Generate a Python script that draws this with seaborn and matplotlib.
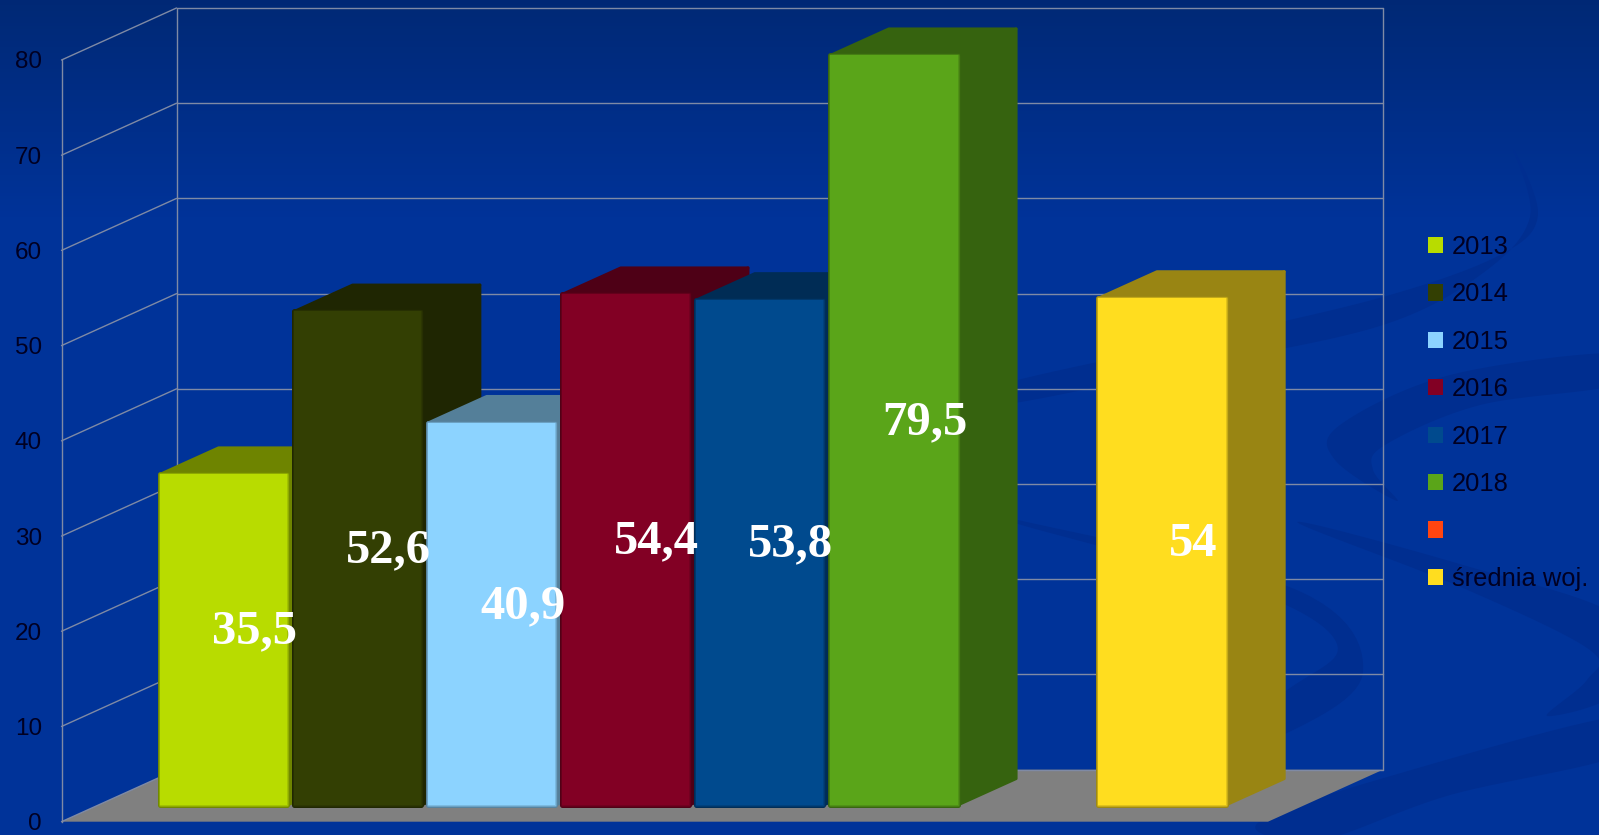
import numpy as np
import pandas as pd
import matplotlib
matplotlib.use('Agg')
import matplotlib.pyplot as plt
import matplotlib.patheffects as pe
from matplotlib.patches import Patch, Polygon
from matplotlib.colors import to_rgb
import seaborn as sns

# Datos del grafico
categories = ['2013', '2014', '2015', '2016', '2017', '2018', ' ', 'średnia woj.']
values = [35.5, 52.6, 40.9, 54.4, 53.8, 79.5, np.nan, 54.0]
value_labels = ['35,5', '52,6', '40,9', '54,4', '53,8', '79,5', '', '54']
colors = ['#B8DC00', '#333F03', '#8CD3FF', '#820024', '#004A8E', '#5AA519', '#FF4510', '#FFDD1F']
yticks = [0, 10, 20, 30, 40, 50, 60, 70, 80]

W, H = 1599, 835
GRID = '#7F8AA5'

# Profundidad del falso 3D, en unidades de datos
DX = 115 / 134.05
DY = 52 / 9.52
D0 = 0.267
BAR_D = 0.51
BAR_Y0 = 1.733
BAR_TRIM = 0.746


def suave(puntos, n=12):
    # Curva cerrada por los puntos de una forma del fondo
    p = np.array(puntos, dtype=float)
    salida = []
    for i in range(len(p)):
        a, b, c, d = p[i - 1], p[i], p[(i + 1) % len(p)], p[(i + 2) % len(p)]
        for t in np.linspace(0, 1, n, endpoint=False):
            salida.append(0.5 * (2 * b + (c - a) * t + (2 * a - 5 * b + 4 * c - d) * t ** 2
                                 + (3 * b - a - 3 * c + d) * t ** 3))
    return np.array(salida)


sns.set_theme(style='white')
plt.rcParams['font.family'] = ['Liberation Sans', 'DejaVu Sans']

fig = plt.figure(figsize=(W / 100, H / 100), dpi=100)

# Fondo: degradado y curvas oscuras
bg = fig.add_axes([0, 0, 1, 1], zorder=-1)
grad = np.array([[0.0, 0.16, 0.46], [0.0, 0.2, 0.6]])
t = np.clip(np.linspace(0, 1, H) / 0.26, 0, 1)[:, None]
bg.imshow((grad[0] * (1 - t) + grad[1] * t)[:, None, :], extent=[0, W, H, 0], aspect='auto')
swoosh = '#002E90'
shapes = [
    [(1000, 385), (1200, 340), (1383, 297), (1500, 255), (1538, 215), (1513, 149), (1530, 217),
     (1483, 273), (1383, 325), (1200, 365), (1000, 405)],
    [(1620, 353), (1450, 375), (1340, 425), (1335, 460), (1397, 501), (1373, 470), (1385, 445),
     (1480, 405), (1620, 384)],
    [(1018, 520), (1297, 590), (1363, 672), (1287, 733), (1150, 775), (1287, 690), (1337, 644), (1250, 590), (1018, 524)],
    [(1297, 522), (1463, 565), (1620, 618), (1620, 690), (1547, 716), (1587, 680), (1590, 650), (1463, 588)],
    [(1262, 820), (1377, 780), (1620, 716), (1620, 755), (1450, 795), (1330, 838), (1275, 838)],
]
for s in shapes:
    bg.add_patch(Polygon(suave(s), closed=True, fc=swoosh, ec='none'))
bg.set_xlim(0, W)
bg.set_ylim(H, 0)
bg.axis('off')

# Plano frontal del grafico
ax = fig.add_axes([61.5 / W, (H - 821.7) / H, 1206.5 / W, 761.7 / H])
df = pd.DataFrame({'categoria': categories, 'valor': values})
sns.barplot(data=df, x='categoria', y='valor', hue='categoria', order=categories,
            hue_order=categories, palette=dict(zip(categories, colors)), width=0.95,
            legend=False, saturation=1, ax=ax)
bars = list(ax.patches)
ax.set_xlim(-1, 8)
ax.set_ylim(0, 80)
ax.patch.set_alpha(0)
ax.set_xlabel('')
ax.set_ylabel('')
ax.set_xticks([])
ax.set_yticks(yticks)
ax.tick_params(axis='y', length=0, pad=14, labelsize=17.5, labelcolor='#000022')
sns.despine(ax=ax, top=True, right=True, bottom=True)
ax.spines['left'].set_color(GRID)
ax.spines['left'].set_linewidth(1)

# Suelo y rejilla
ax.add_patch(Polygon([(-1, 0), (-1 + DX, DY), (8 + DX, DY), (8, 0)], closed=True,
                     fc='#808080', ec='none', zorder=1, clip_on=False))
for v in yticks:
    ax.plot([-1, -1 + DX], [v, v + DY], color=GRID, lw=1, zorder=1.5, clip_on=False)
    ax.plot([-1 + DX, 8 + DX], [v + DY, v + DY], color=GRID, lw=1, zorder=1.5, clip_on=False)
ax.plot([-1 + DX, -1 + DX], [DY, 80 + DY], color=GRID, lw=1, zorder=1.5, clip_on=False)
ax.plot([8 + DX, 8 + DX], [DY, 80 + DY], color=GRID, lw=1, zorder=1.5, clip_on=False)

# Barras: cara frontal de seaborn, mas laterales y tapas calculadas
for p in bars:
    v = p.get_height()
    if not v > 0:
        continue
    w = p.get_width()
    i = int(round(p.get_x() + w / 2))
    h = v - BAR_TRIM
    x0 = p.get_x() + DX * D0 - 0.02
    y0 = BAR_Y0
    z = 3 + i
    front = np.array(to_rgb(colors[i]))
    dark = tuple(front * 0.6)
    bx, by = DX * BAR_D, DY * BAR_D
    ax.add_patch(Polygon([(x0 + w, y0), (x0 + w + bx, y0 + by), (x0 + w + bx, y0 + h + by), (x0 + w, y0 + h)],
                         closed=True, fc=dark, ec=dark, lw=2, joinstyle='round', zorder=z, clip_on=False))
    ax.add_patch(Polygon([(x0, y0 + h), (x0 + bx, y0 + h + by), (x0 + w + bx, y0 + h + by), (x0 + w, y0 + h)],
                         closed=True, fc=dark, ec=dark, lw=2, joinstyle='round', zorder=z, clip_on=False))
    p.set_x(x0)
    p.set_y(y0)
    p.set_height(h)
    p.set_facecolor(front)
    p.set_edgecolor('none')
    p.set_joinstyle('round')
    p.set_zorder(z + 0.5)
    p.set_clip_on(False)
    # Borde difuminado de la cara frontal
    p.set_path_effects([pe.Stroke(linewidth=3.6, foreground=tuple(front * 0.62), joinstyle='round'),
                        pe.Stroke(linewidth=2.2, foreground=tuple(front * 0.74), joinstyle='round'),
                        pe.Stroke(linewidth=1, foreground=tuple(front * 0.88), joinstyle='round'),
                        pe.Normal()])
    ax.text(x0 + w / 2 + bx / 2 + 0.012, y0 + h / 2 + by / 2 - 0.55, value_labels[i], family='Liberation Serif',
            weight='bold', fontsize=35, color='white', ha='center', va='center', zorder=20, clip_on=False)

# Leyenda
handles = [Patch(fc=c, ec='none') for c in colors]
leg = ax.legend(handles, [c.strip() for c in categories], loc='upper left',
                bbox_to_anchor=(1428 / W, (H - 235) / H), bbox_transform=fig.transFigure,
                frameon=False, fontsize=18.4, labelcolor='#000022', handlelength=0.6, handleheight=0.6,
                handletextpad=0.33, labelspacing=0.916, borderpad=0, borderaxespad=0)
leg.set_zorder(30)

plt.savefig('out.png', dpi=100, facecolor='#003399')
